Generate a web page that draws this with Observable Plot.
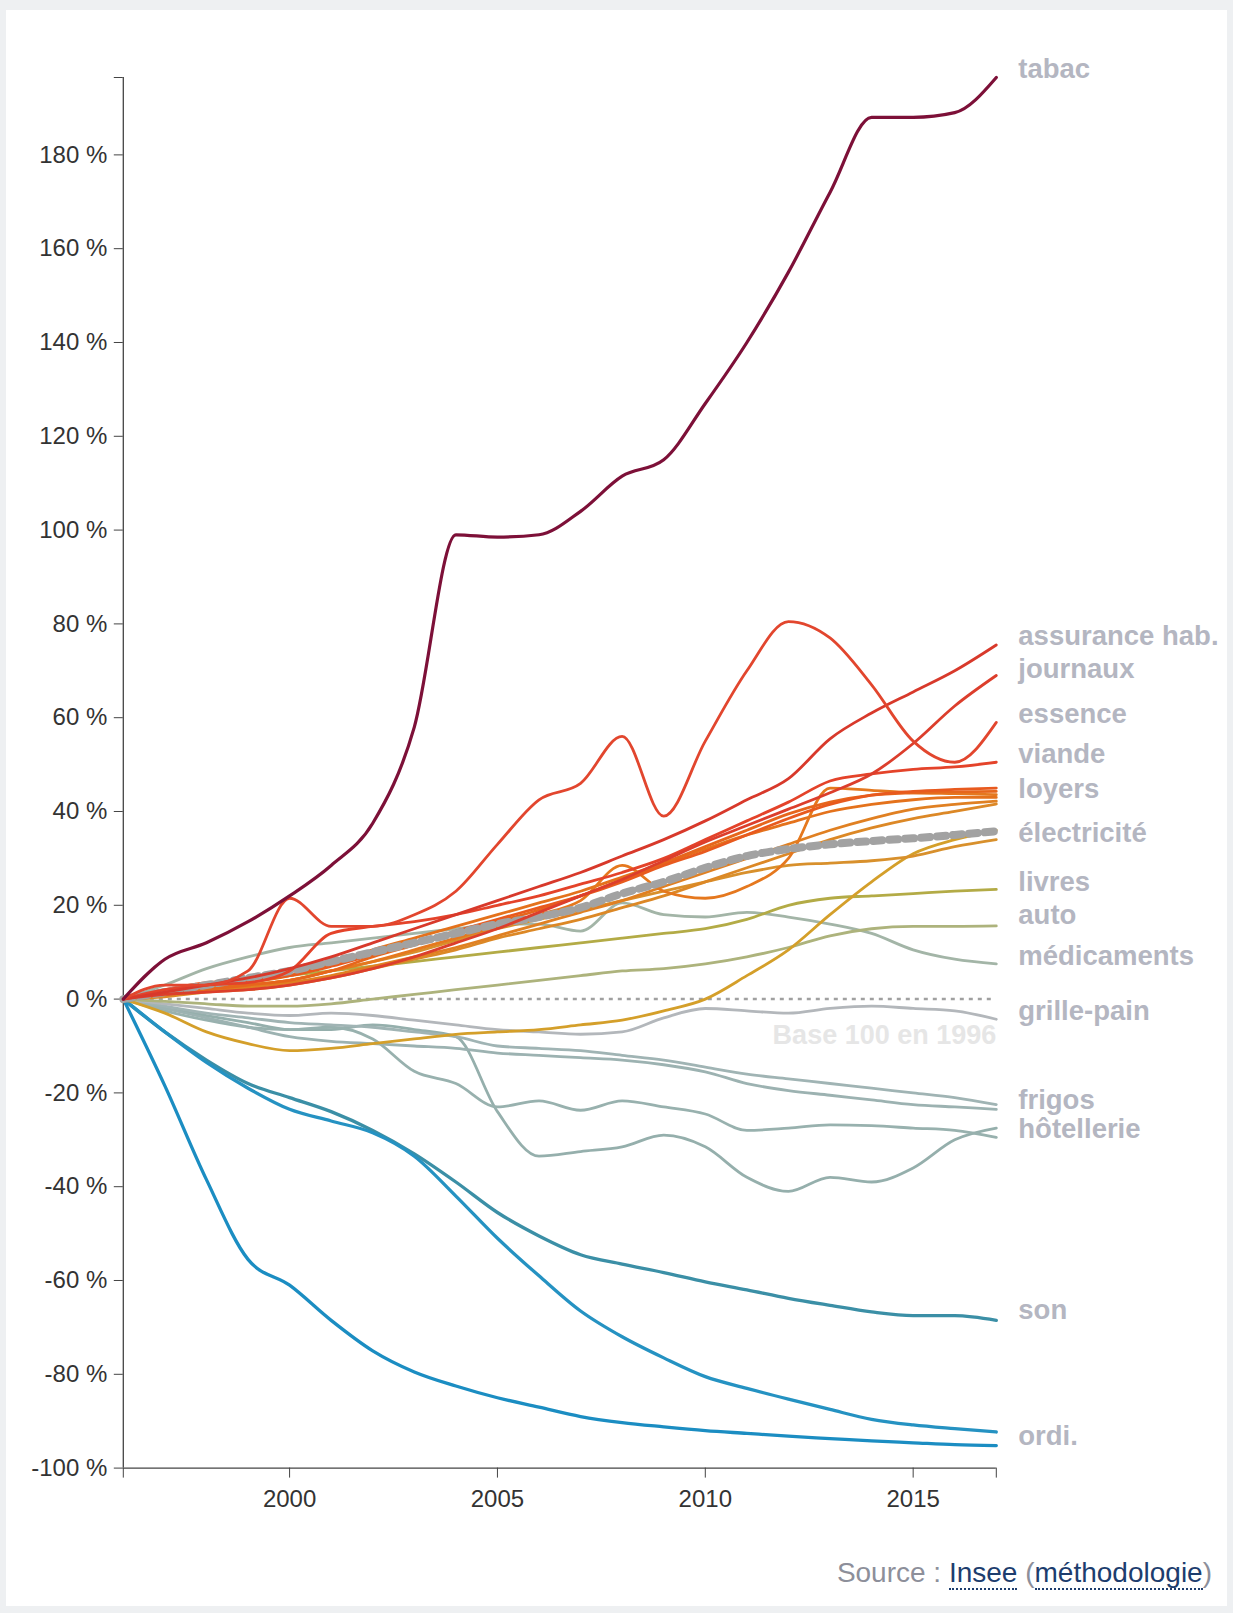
<!DOCTYPE html>
<html><head><meta charset="utf-8">
<script src="https://cdn.jsdelivr.net/npm/d3@7"></script>
<script src="https://cdn.jsdelivr.net/npm/@observablehq/plot@0.6"></script>
<style>
html,body{margin:0;padding:0;background:#eef0f2;}
body{width:1233px;height:1613px;position:relative;overflow:hidden;font-family:"Liberation Sans",Arial,sans-serif;}
#panel{position:absolute;left:6px;top:10px;width:1221px;height:1596px;background:#fff;}
#chart{position:absolute;left:0;top:0;}
#source{position:absolute;right:21px;top:1556px;font-size:28px;line-height:34px;color:#8d8f9a;white-space:nowrap;}
#source a{color:#1d3d6e;text-decoration:none;border-bottom:2px dotted #1d3d6e;}
</style></head><body>
<div id="panel"></div>
<div id="chart"></div>
<div id="source">Source : <a>Insee</a> (<a>méthodologie</a>)</div>
<script>
// ---- data (indices in %, base 1996) ----
const years = [1996,1997,1998,1999,2000,2001,2002,2003,2004,2005,2006,2007,2008,2009,2010,2011,2012,2013,2014,2015,2016,2017];

const tabac        = [0,8.5,12,16.5,22,28.5,37.5,58,99,98.5,99,104,111.5,115,127,140,155,172,188,188,189,196.5];
const assuranceHab = [0,1.5,3,4.5,6.5,9,12,15,18,21,24,27,30.5,34,38,42.5,47,55.5,61,65.5,70,75.5];
const journaux     = [0,1,1.5,2,3,4.5,6.5,9,12,15,18.5,22,25.5,29.5,33.5,37,40.5,44,48,54.5,62.5,69];
const essence      = [0,3,3,6,21.5,15.5,15.5,18,23,33,42.5,46,56,39,55,70,80.5,77,67,55,50.5,59];
const viande       = [0,2,3,3.5,6,14,15.5,16.5,18,20,22,24.5,27,30,34,38,42,46.5,48,49,49.5,50.5];
const loyers       = [0,2,3.5,4,5,7,9.5,12,14.5,17,19.5,22,25,28.5,31.5,35,38.5,41.5,43.5,44.3,44.7,45];
const serieB       = [0,1,2,3,4,6,9,11.5,14,16.5,19,22,25.5,29,32.5,36,39.5,42,43.5,44,44.2,44.3];
const serieC       = [0,1,2,3,4,6,8,10.5,13,15.5,18,21,28.5,23,21.5,24,30,45,44.5,44,43.8,43.6];
const serieD       = [0,1.5,2.5,3.5,5,7.5,10.5,13,15.5,18,20.5,23,26,29,32,35,37.5,40,41.5,42.5,43,43];
const serieE       = [0,1,2,2.5,3.5,5,7,9,11,13.5,16,18.5,21,24,27,30,33,36,38.5,40.5,41.5,42.2];
const serieF       = [0,0.5,1.5,2,3,4.5,6.5,8.5,10.5,13,15,17,19.5,22,25,28,31,34,36.5,38.5,40,41.6];
const serieG       = [0,1,2,3,4,6,8,10,12.5,15,17,19,21,23,25,27,28.5,29,29.5,30.5,32.5,34];
const electricite  = [0,-3,-7,-9.5,-11,-10.5,-9.5,-8.5,-7.5,-7,-6.5,-5.5,-4.5,-2.5,0,5,10.5,18,25,31,34,36];
const ensemble     = [0,1.5,3,4.5,6,8,10,12,14,16,17.5,19.5,22.5,25,28,30.5,32,33,33.7,34.3,35,35.8];
const livres       = [0,1,2,3.5,5,6,7,8,9,10,11,12,13,14,15,17,20,21.5,22,22.5,23,23.4];
const auto         = [0,-0.5,-1,-1.5,-1.5,-1,0,1,2,3,4,5,6,6.5,7.5,9,11,13.5,15,15.5,15.5,15.6];
const medicaments  = [0,3,6.5,9,11,12,13,14,15,16,16,14.5,20.5,18,17.5,18.5,17.5,16,14,10.5,8.5,7.5];
const grillePain   = [0,-1,-2,-3,-3.5,-3,-3.5,-4.5,-5.5,-6.5,-7,-7.5,-7,-4,-2,-2.5,-3,-2,-1.5,-2,-2.5,-4.3];
const frigos       = [0,-1.5,-3,-4,-5,-5.5,-6,-7,-8,-10,-10.5,-11,-12,-13,-14.5,-16,-17,-18,-19,-20,-21,-22.5];
const serieS       = [0,-2,-4,-6,-8,-9,-9.5,-10,-10.5,-11.5,-12,-12.5,-13,-14,-15.5,-18,-19.5,-20.5,-21.5,-22.5,-23,-23.5];
const hotellerie   = [0,-2.5,-4.5,-6,-6.5,-6,-8.5,-15.4,-18,-23,-21.7,-23.7,-21.7,-23,-24.5,-28,-27.5,-26.8,-27,-27.5,-28,-29.5];
const serieQ       = [0,-2,-3.5,-5,-6.5,-6.5,-5.5,-6.5,-8,-24,-33.5,-32.5,-31.5,-29,-31.5,-38,-41,-38,-39,-36,-30,-27.5];
const son          = [0,-7,-13,-18,-21,-24,-28,-33,-39,-45.5,-50.5,-54.5,-56.5,-58.3,-60.3,-62,-63.8,-65.3,-66.7,-67.5,-67.5,-68.5];
const ordiB        = [0,-7,-13.5,-19,-23.5,-26,-28.5,-33.5,-42,-51,-59,-66.5,-72,-76.5,-80.5,-83,-85.3,-87.5,-89.6,-90.8,-91.6,-92.3];
const ordi         = [0,-18.5,-38.5,-55.5,-61,-68.5,-75,-79.5,-82.5,-85,-87,-89,-90.3,-91.2,-92,-92.6,-93.2,-93.7,-94.2,-94.6,-95,-95.2];

// end labels and where they sit (in %)
const labelNames  = ["tabac","assurance hab.","journaux","essence","viande","loyers","électricité","livres","auto","médicaments","grille-pain","frigos","hôtellerie","son","ordi."];
const labelValues = [198.3,77.4,70.4,60.8,52.2,44.7,35.4,25.0,17.8,9.2,-2.6,-21.5,-27.8,-66.4,-93.2];

const yTicks = [-100,-80,-60,-40,-20,0,20,40,60,80,100,120,140,160,180];
const xTicks = [2000,2005,2010,2015];
const baseNote = "Base 100 en 1996";
const baseNoteValue = -7.7;

// drawing order (back to front) with colours
const series = [
  ["Q", serieQ, "#95afac"],
  ["hôtellerie", hotellerie, "#98b1ae"],
  ["S", serieS, "#9cb2b1"],
  ["frigos", frigos, "#a0b4b4"],
  ["grille-pain", grillePain, "#b3b7bb"],
  ["médicaments", medicaments, "#a3b5a7"],
  ["auto", auto, "#adb37c"],
  ["livres", livres, "#b3ab46"],
  ["son", son, "#3b8fa6"],
  ["ordiB", ordiB, "#2592c2"],
  ["ordi", ordi, "#1b8dc2"],
  ["électricité", electricite, "#d49f2a"],
  ["G", serieG, "#d8902c"],
  ["F", serieF, "#dc8826"],
  ["E", serieE, "#e08022"],
  ["D", serieD, "#e4721c"],
  ["C", serieC, "#e5781e"],
  ["B", serieB, "#e6661c"],
  ["loyers", loyers, "#e85a1e"],
  ["viande", viande, "#e4432a"],
  ["journaux", journaux, "#dc3e2c"],
  ["assurance", assuranceHab, "#d8392b"],
  ["essence", essence, "#e2462e"],
  ["tabac", tabac, "#7d1038"]
];

const rows = series.flatMap(([name, vals]) => vals.map((v, i) => ({name, year: years[i], value: v})));
const ensembleRows = ensemble.map((v, i) => ({year: years[i], value: v}));
const pick = names => rows.filter(d => names.includes(d.name));

const yTop = d3.max(tabac);
const xDom = [years[0], years[years.length - 1]];

const chart = Plot.plot({
  width: 1233,
  height: 1530,
  marginLeft: 122.8,
  marginRight: 237.2,
  marginTop: 77,
  marginBottom: 62.4,
  style: {background: "transparent", fontFamily: "'Liberation Sans', Arial, sans-serif", fontSize: "24px", color: "#333", overflow: "visible"},
  x: {domain: xDom},
  y: {domain: [-100, yTop]},
  color: {domain: series.map(d => d[0]), range: series.map(d => d[2])},
  marks: [
    Plot.text([baseNote], {x: xDom[1], y: baseNoteValue, text: d => d, textAnchor: "end", fill: "#e6e6e6", fontSize: 27, fontWeight: "bold"}),
    Plot.ruleY([0], {stroke: "#a0a0a0", strokeWidth: 2.5, strokeDasharray: "4,5"}),
    Plot.ruleX([xDom[0]], {stroke: "#444", strokeWidth: 1.3}),
    Plot.ruleY([-100], {stroke: "#444", strokeWidth: 1.3}),
    Plot.axisY(yTicks, {tickFormat: d => d + " %", tickSize: 9, tickPadding: 7, label: null, stroke: "#444"}),
    Plot.axisY([yTop], {tickFormat: () => "", tickSize: 9, label: null, stroke: "#444"}),
    Plot.axisX(xTicks, {tickFormat: d => String(d), tickSize: 10, tickPadding: 12, label: null, stroke: "#444"}),
    Plot.axisX(xDom, {tickFormat: () => "", tickSize: 10, label: null, stroke: "#444"}),
    Plot.line(pick(["Q","hôtellerie","S","frigos","grille-pain","médicaments","auto","livres"]),
      {x: "year", y: "value", z: "name", stroke: "name", strokeWidth: 2.8, curve: "monotone-x"}),
    Plot.line(pick(["son","ordiB","ordi"]),
      {x: "year", y: "value", z: "name", stroke: "name", strokeWidth: 3.3, curve: "monotone-x"}),
    Plot.line(pick(["électricité","G","F","E","D","C","B","loyers"]),
      {x: "year", y: "value", z: "name", stroke: "name", strokeWidth: 2.8, curve: "monotone-x"}),
    Plot.line(ensembleRows, {x: "year", y: "value", stroke: "#a2a2a2", strokeWidth: 8, strokeDasharray: "9,7", curve: "monotone-x"}),
    Plot.line(pick(["viande","journaux","assurance","essence"]),
      {x: "year", y: "value", z: "name", stroke: "name", strokeWidth: 2.8, curve: "monotone-x"}),
    Plot.line(pick(["tabac"]),
      {x: "year", y: "value", z: "name", stroke: "name", strokeWidth: 3.2, curve: "monotone-x"}),
    Plot.text(labelNames, {x: xDom[1], y: (d, i) => labelValues[i], text: d => d, textAnchor: "start", dx: 22, fill: "#b4b6c1", fontSize: 27.5, fontWeight: "bold"})
  ]
});
document.getElementById("chart").appendChild(chart);
</script>
</body></html>
